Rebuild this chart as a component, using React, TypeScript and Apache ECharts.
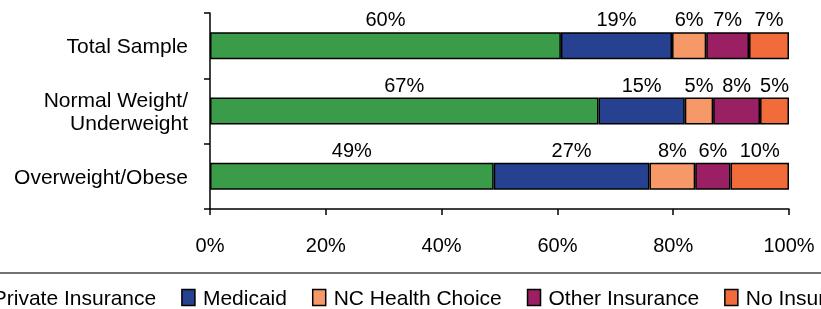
import React, { useEffect, useRef } from "react";
import * as echarts from "echarts";

const categories = ["Total Sample", "Normal Weight/\nUnderweight", "Overweight/Obese"];
const seriesNames = ["Private Insurance", "Medicaid", "NC Health Choice", "Other Insurance", "No Insurance"];

const privateInsurance = [60.6, 67.1, 49.0];
const medicaid = [19.2, 14.9, 26.9];
const ncHealthChoice = [5.9, 4.9, 7.9];
const otherInsurance = [7.4, 8.1, 6.1];
const noInsurance = [6.9, 5.0, 10.1];

const privateLabels = ["60%", "67%", "49%"];
const medicaidLabels = ["19%", "15%", "27%"];
const ncLabels = ["6%", "5%", "8%"];
const otherLabels = ["7%", "8%", "6%"];
const noLabels = ["7%", "5%", "10%"];

const xTickStep = 20;
const xMax = 100;

const colors = ["#3a9b48", "#26418f", "#f79869", "#9a2063", "#f26b3b"];
const FONT = "'Liberation Sans', Arial, sans-serif";

export default function App() {
  const ref = useRef<HTMLDivElement>(null);
  useEffect(() => {
    if (!ref.current) return;
    const chart = echarts.init(ref.current, undefined, { renderer: "svg" });
    const values = [privateInsurance, medicaid, ncHealthChoice, otherInsurance, noInsurance];
    const labels = [privateLabels, medicaidLabels, ncLabels, otherLabels, noLabels];
    chart.setOption({
      animation: false,
      textStyle: { fontFamily: FONT, color: "#000" },
      grid: { left: 210, right: 32, top: 13, bottom: 100, containLabel: false },
      xAxis: {
        type: "value",
        min: 0,
        max: xMax,
        interval: xTickStep,
        splitLine: { show: false },
        axisLine: { show: true, lineStyle: { color: "#000", width: 1.5 } },
        axisTick: { show: true, length: 6, lineStyle: { color: "#000", width: 1.5 } },
        axisLabel: { formatter: "{value}%", fontSize: 20, color: "#000", margin: 26, fontFamily: FONT },
      },
      yAxis: {
        type: "category",
        data: categories,
        inverse: true,
        axisLine: { show: true, lineStyle: { color: "#000", width: 1.5 } },
        axisTick: { show: true, length: 6, lineStyle: { color: "#000", width: 1.5 } },
        axisLabel: { fontSize: 21, color: "#000", margin: 22, lineHeight: 23, align: "right", fontFamily: FONT },
      },
      legend: {
        left: -34,
        top: 282,
        width: 1200,
        icon: "rect",
        itemWidth: 13,
        itemHeight: 16,
        itemGap: 25,
        data: seriesNames,
        textStyle: { fontSize: 21, color: "#000", fontFamily: FONT, padding: [0, 0, 0, 3] },
        itemStyle: { borderColor: "#000", borderWidth: 1.5 },
      },
      graphic: [
        {
          type: "line",
          shape: { x1: 0, y1: 273, x2: 821, y2: 273 },
          style: { stroke: "#444", lineWidth: 1.5 },
        },
      ],
      series: seriesNames.map((name, i) => ({
        name,
        type: "bar",
        stack: "total",
        data: values[i],
        barWidth: 27,
        itemStyle: { color: colors[i], borderColor: "#000", borderWidth: 1.5 },
        label: {
          show: true,
          position: "top",
          distance: 3,
          fontSize: 20,
          color: "#000",
          fontFamily: FONT,
          formatter: (p: any) => labels[i][p.dataIndex],
        },
      })),
    });
    return () => chart.dispose();
  }, []);
  return <div ref={ref} style={{ position: "fixed", left: 0, top: 0, width: 821, height: 309 }} />;
}
